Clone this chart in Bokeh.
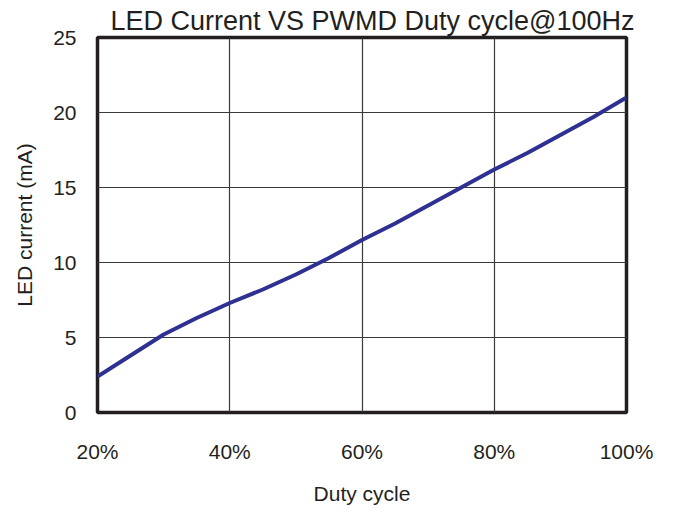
from bokeh.plotting import figure
from bokeh.models import Range1d, NumeralTickFormatter, FixedTicker
from bokeh.embed import file_html
from bokeh.resources import INLINE

# Data
duty = [0.20, 0.25, 0.30, 0.35, 0.40, 0.45, 0.50, 0.55, 0.60, 0.65,
        0.70, 0.75, 0.80, 0.85, 0.90, 0.95, 1.00]
current_ma = [2.4, 3.8, 5.2, 6.3, 7.3, 8.2, 9.2, 10.3, 11.5, 12.6,
              13.8, 15.0, 16.2, 17.3, 18.5, 19.7, 21.0]
x_ticks = [0.2, 0.4, 0.6, 0.8, 1.0]
y_ticks = [0, 5, 10, 15, 20, 25]
title_text = "LED Current  VS PWMD Duty cycle@100Hz"
x_label = "Duty cycle"
y_label = "LED current (mA)"

FONT = "Liberation Sans"
TXT = "#231f20"

p = figure(frame_width=529, frame_height=375,
           x_range=Range1d(0.2, 1.0), y_range=Range1d(0, 25),
           title=title_text,
           output_backend="svg", toolbar_location=None,
           min_border_left=97, min_border_right=38,
           min_border_top=37, min_border_bottom=85)

p.title.align = "left"
p.title.text_font = FONT
p.title.text_font_size = "27px"
p.title.text_font_style = "normal"
p.title.text_color = TXT
p.title.text_line_height = 1.3
p.title.standoff = 4
p.title.offset = 13

p.background_fill_color = "white"
p.border_fill_color = "white"
p.outline_line_color = "#231f20"
p.outline_line_width = 3.5

p.xaxis.ticker = FixedTicker(ticks=x_ticks)
p.yaxis.ticker = FixedTicker(ticks=y_ticks)
p.xaxis.formatter = NumeralTickFormatter(format="0%")

for ax in (p.xaxis, p.yaxis):
    ax.axis_line_color = None
    ax.major_tick_line_color = None
    ax.minor_tick_line_color = None
    ax.major_label_text_font = FONT
    ax.major_label_text_font_size = "21px"
    ax.major_label_text_color = TXT
    ax.axis_label_text_font = FONT
    ax.axis_label_text_font_size = "21px"
    ax.axis_label_text_font_style = "normal"
    ax.axis_label_text_color = TXT

p.xaxis.axis_label = x_label
p.yaxis.axis_label = y_label
p.xaxis.major_label_standoff = 21
p.xaxis.axis_label_standoff = 16
p.yaxis.major_label_standoff = 15
p.yaxis.axis_label_standoff = 14

p.xgrid.grid_line_color = "#3a3a3a"
p.ygrid.grid_line_color = "#3a3a3a"
p.xgrid.grid_line_width = 1.2
p.ygrid.grid_line_width = 1.2

p.line(duty, current_ma, line_color="#2e3192", line_width=4)

open("out.html", "w").write(file_html(p, INLINE))
